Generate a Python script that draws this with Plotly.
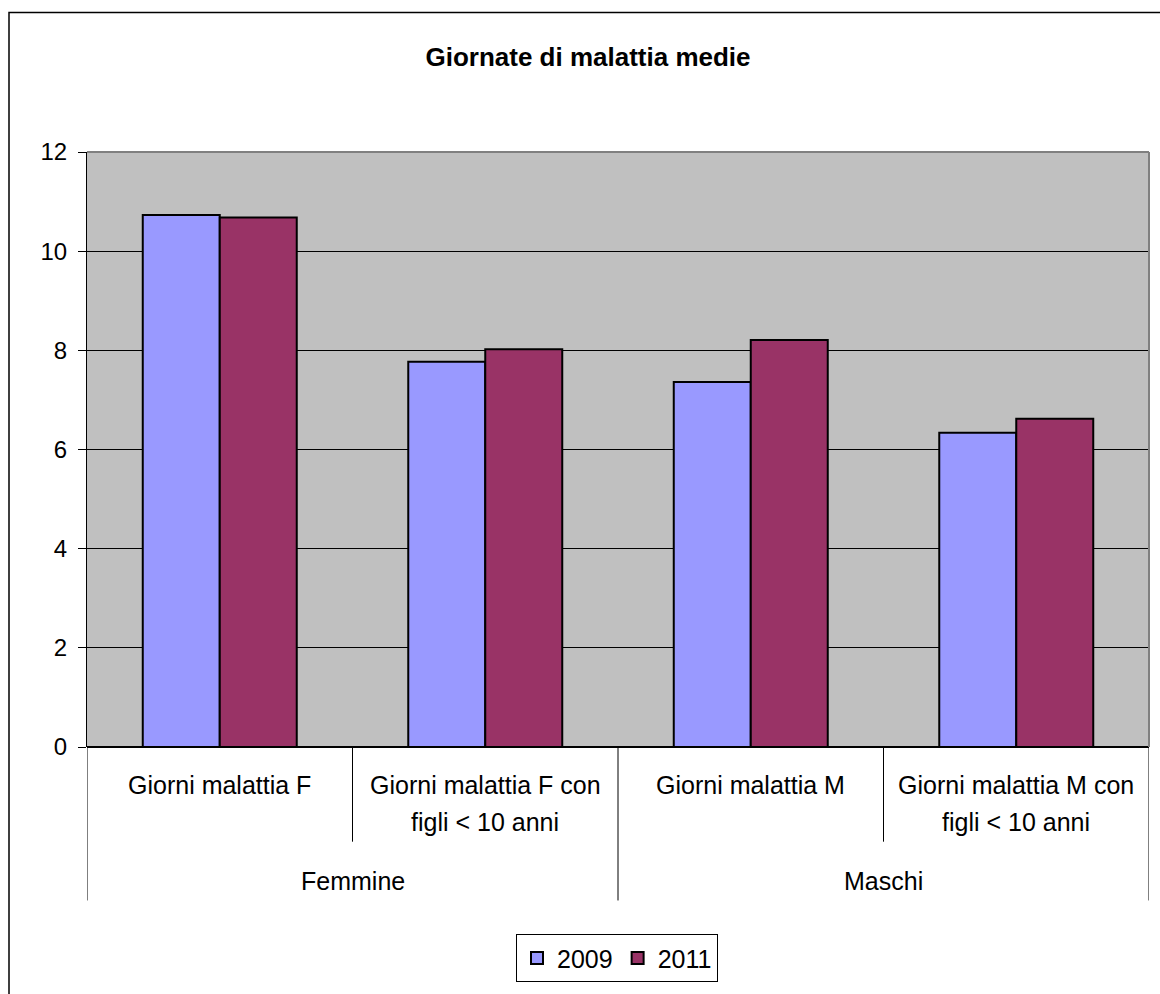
import plotly.graph_objects as go

# Data
categories = [
    "Giorni malattia F",
    "Giorni malattia F con<br>figli < 10 anni",
    "Giorni malattia M",
    "Giorni malattia M con<br>figli < 10 anni",
]
groups = ["Femmine", "Maschi"]
group_spans = [(0, 1), (2, 3)]  # category index ranges per group
series_names = ["2009", "2011"]
values_2009 = [10.73, 7.77, 7.36, 6.34]
values_2011 = [10.68, 8.02, 8.21, 6.62]
colors = ["#9999FF", "#993366"]
y_ticks = [0, 2, 4, 6, 8, 10, 12]

W, H = 1160, 994
L, R, T, B = 87, 1149, 152, 749  # plot area in pixels

def py(pix):
    """pixel row -> paper y"""
    return (B - pix) / (B - T)

def px(pix):
    """pixel column -> paper x"""
    return (pix - L) / (R - L)

FONT = "Liberation Sans, Arial, sans-serif"
xs = list(range(len(categories)))

fig = go.Figure()
for name, vals, col in zip(series_names, [values_2009, values_2011], colors):
    fig.add_trace(go.Bar(
        x=xs, y=vals, name=name,
        marker=dict(color=col, line=dict(color="black", width=2)),
    ))

shapes = []
annotations = []

# category dividers below the axis
n = len(categories)
group_edges = {-0.5} | {e + 0.5 for _, e in group_spans}
for i in range(n + 1):
    xb = i - 0.5
    bottom = 903 if xb in group_edges else 844
    shapes.append(dict(type="line", xref="x", yref="paper",
                       x0=xb, x1=xb, y0=0, y1=py(bottom),
                       line=dict(color="black", width=1)))

# category labels, one annotation per line
for i, lab in enumerate(categories):
    lines = lab.split("<br>")
    for k, line in enumerate(lines):
        annotations.append(dict(xref="x", yref="paper", x=i, y=py(787 + 37 * k),
                                text=line, showarrow=False, xanchor="center",
                                yanchor="middle",
                                font=dict(family=FONT, size=25, color="black")))

# group labels
for g, (s, e) in zip(groups, group_spans):
    annotations.append(dict(xref="x", yref="paper", x=(s + e) / 2, y=py(883),
                            text=g, showarrow=False, xanchor="center",
                            yanchor="middle",
                            font=dict(family=FONT, size=25, color="black")))

# plot-area frame: grey top and right edges
shapes.append(dict(type="line", xref="paper", yref="paper", x0=0, x1=1, y0=1, y1=1,
                   line=dict(color="#808080", width=2)))
shapes.append(dict(type="line", xref="paper", yref="paper", x0=1, x1=1, y0=0, y1=1,
                   line=dict(color="#808080", width=2)))

# outer chart border
shapes.append(dict(type="rect", xref="paper", yref="paper",
                   x0=px(9), x1=px(1175), y0=py(12), y1=py(1010),
                   line=dict(color="black", width=1.5), fillcolor="rgba(0,0,0,0)",
                   layer="above"))

fig.update_layout(
    width=W, height=H,
    margin=dict(l=L, r=W - R, t=T, b=H - B, pad=0),
    paper_bgcolor="white",
    plot_bgcolor="#C0C0C0",
    barmode="group",
    bargap=0.42,
    bargroupgap=0,
    font=dict(family=FONT, size=24, color="black"),
    title=dict(text="<b>Giornate di malattia medie</b>",
               x=588 / W, xref="container", xanchor="center",
               y=1 - 57 / H, yref="container", yanchor="middle",
               font=dict(family=FONT, size=26, color="black")),
    xaxis=dict(range=[-0.5, n - 0.5], showticklabels=False, showgrid=False,
               zeroline=False, showline=False, ticks=""),
    yaxis=dict(range=[0, 12], tickvals=y_ticks, ticks="outside", ticklen=8,
               tickcolor="black", tickwidth=1, ticklabelstandoff=6,
               showgrid=True, gridcolor="black", gridwidth=1,
               zeroline=True, zerolinecolor="black", zerolinewidth=1.5,
               showline=True, linecolor="black", linewidth=1,
               tickfont=dict(family=FONT, size=24, color="black")),
    showlegend=True,
    legend=dict(orientation="h", x=px(617), xanchor="center", y=py(937),
                yanchor="top", bordercolor="black", borderwidth=1,
                bgcolor="white", font=dict(family=FONT, size=25, color="black"),
                itemwidth=30, tracegroupgap=0),
    shapes=shapes,
    annotations=annotations,
)

fig.write_html("out.html")
